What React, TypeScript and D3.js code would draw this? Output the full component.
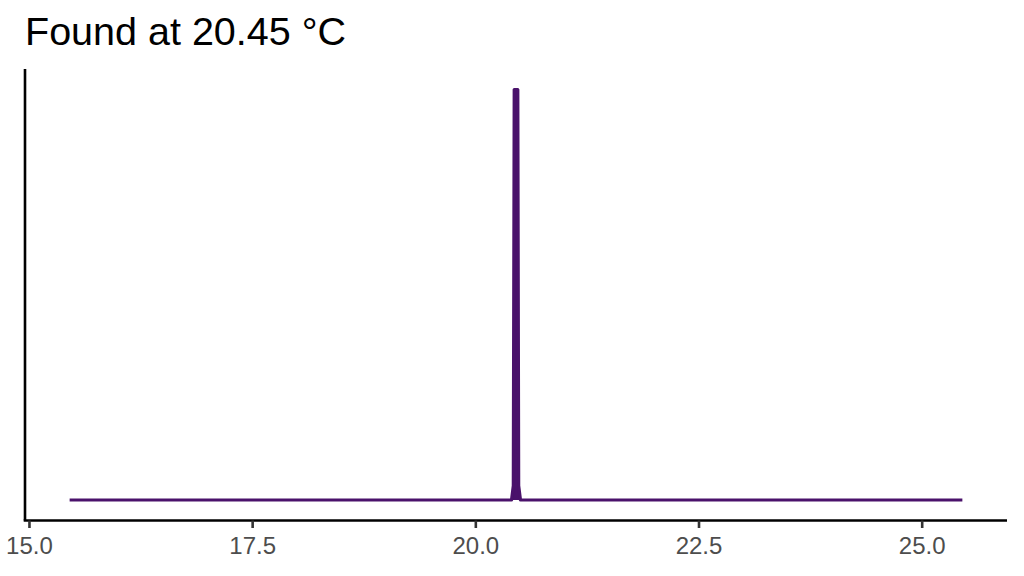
import * as d3 from 'd3'

// temperature grid (°C) and the normalised signal
const temps = [15.45, 20.4, 20.42, 20.43, 20.47, 20.48, 20.5, 25.45]
const signal = [0, 0, 0.035, 1, 1, 0.035, 0, 0]
const xTicks = [15, 17.5, 20, 22.5, 25]
const title = 'Found at 20.45 °C'

const W = 1024
const H = 576
const panel = { left: 25, right: 1007, top: 69, bottom: 520.5 }
const font = '"Liberation Sans", Arial, Helvetica, sans-serif'

export default function App() {
  const x = d3.scaleLinear().domain([14.95, 25.95]).range([panel.left, panel.right])
  const y = d3.scaleLinear().domain([-0.05, 1.05]).range([panel.bottom, panel.top])

  const pts = temps.map((t, i) => [t, signal[i]] as [number, number])
  const line = d3.line<[number, number]>()
    .x((d) => x(d[0]))
    .y((d) => y(d[1]))

  return (
    <svg
      width={W}
      height={H}
      style={{ position: 'absolute', left: 0, top: 0, display: 'block', background: '#fff' }}
    >
      <text x={25} y={45} fontFamily={font} fontSize={39.5} fill="#000">{title}</text>

      {/* the spike is so narrow that the stroke closes it up; fill keeps it solid */}
      <path
        d={line(pts) ?? ''}
        fill="#4a126b"
        stroke="#4a126b"
        strokeWidth={3.2}
        strokeLinejoin="round"
      />

      {/* axes */}
      <line x1={panel.left} x2={panel.left} y1={panel.top} y2={panel.bottom} stroke="#000" strokeWidth={2.6} />
      <line x1={panel.left - 1.3} x2={panel.right} y1={panel.bottom} y2={panel.bottom} stroke="#000" strokeWidth={2.6} />

      {xTicks.map((t) => (
        <g key={t} transform={`translate(${x(t)},0)`}>
          <line y1={panel.bottom} y2={panel.bottom + 7.5} stroke="#333" strokeWidth={2.6} />
          <text y={554} textAnchor="middle" fontFamily={font} fontSize={24} fill="#4d4d4d">
            {t.toFixed(1)}
          </text>
        </g>
      ))}
    </svg>
  )
}
